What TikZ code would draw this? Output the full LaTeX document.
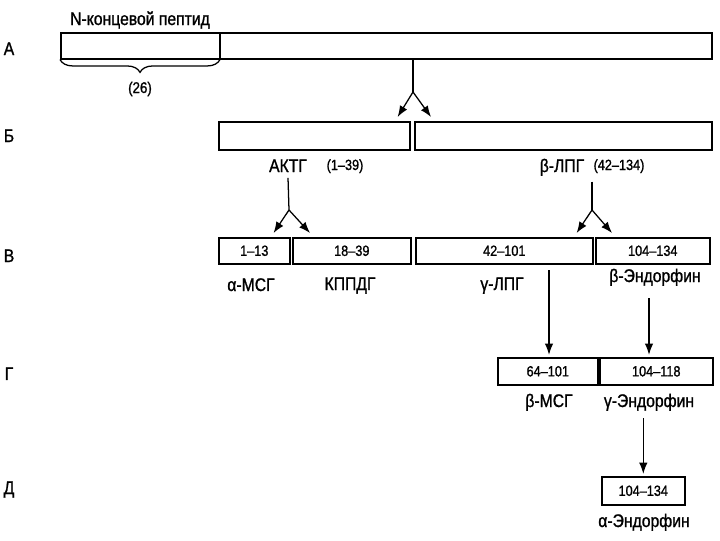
\documentclass[tikz,border=0pt]{standalone}
\usepackage{fontspec}
\setmainfont{Liberation Sans}[FakeStretch=0.86, FakeBold=1.1]
\usetikzlibrary{arrows.meta,positioning,calc,decorations.pathreplacing}
\tikzset{
  seg/.style={draw, line width=1.1pt, inner sep=0pt, anchor=north west, font=\fontsize{10.5}{12}\selectfont},
  lab/.style={font=\fontsize{13}{15}\selectfont, inner sep=0pt, anchor=base},
  rng/.style={font=\fontsize{10.5}{12}\selectfont, inner sep=0pt, anchor=base},
  rowlab/.style={font=\fontsize{13}{15}\selectfont, inner sep=0pt, anchor=base},
  stem/.style={line width=0.9pt},
  arr/.style={-{Latex[length=2.8mm,width=2.1mm]}, line width=0.9pt}
}
\begin{document}
\begin{tikzpicture}[x=0.025cm, y=-0.025cm]
\useasboundingbox (0,0) rectangle (720,540);
% row letters
\node[rowlab] (ra) at (9,55) {А};
\node[rowlab] (rb) at (9,142) {Б};
\node[rowlab] (rv) at (9,262) {В};
\node[rowlab] (rg) at (9,380) {Г};
\node[rowlab] (rd) at (9,494) {Д};
% A: precursor
\node[seg, minimum width=16.275cm, minimum height=0.65cm] (pomc) at (60,32) {};
\draw[line width=1.1pt] ($(pomc.north west)+(160,0)$) -- ($(pomc.south west)+(160,0)$);
\node[lab] (nterm) at (140,25) {N-концевой пептид};
\draw[line width=0.9pt, decorate, decoration={brace, mirror, amplitude=0.32cm}] (pomc.south west) -- ($(pomc.south west)+(160,0)$);
\node[rng, font=\fontsize{11}{13}\selectfont] (n26) at (140,93) {(26)};
% split A -> B
\coordinate (sa) at (413,92);
\draw[stem] (pomc.south -| sa) -- (sa);
% B
\node[seg, minimum width=4.775cm, minimum height=0.7cm] (actg) at (218,121) {};
\node[seg, minimum width=7.425cm, minimum height=0.7cm] (blph) at (414,121) {};
\draw[arr] (sa) -- ([shift={(-13,-4)}]actg.north east);
\draw[arr] (sa) -- ([shift={(17,-4)}]blph.north west);
\node[lab] (actgl) at (288,172) {АКТГ};
\node[rng] (actgr) at (345,170) {(1–39)};
\node[lab] (blphl) at (562,172) {β-ЛПГ};
\node[rng] (blphr) at (619,170) {(42–134)};
% split B -> V
\coordinate (sb) at (289,210);
\coordinate (sc) at (592,210);
\draw[stem] ([yshift=-4pt]actgl.south) -- (sb);
\draw[stem] ([yshift=-4pt]blphl.south -| sc) -- (sc);
% V
\node[seg, minimum width=1.775cm, minimum height=0.65cm] (amsh) at (218,237) {1–13};
\node[seg, minimum width=2.95cm, minimum height=0.65cm] (clip) at (292,237) {18–39};
\node[seg, minimum width=4.425cm, minimum height=0.65cm] (glph) at (415,237) {42–101};
\node[seg, minimum width=2.85cm, minimum height=0.65cm] (bend) at (595,237) {104–134};
\draw[arr] (sb) -- ([shift={(-17,-4)}]amsh.north east);
\draw[arr] (sb) -- ([shift={(18,-4)}]clip.north west);
\draw[arr] (sc) -- ([shift={(-17,-4)}]glph.north east);
\draw[arr] (sc) -- ([shift={(17,-4)}]bend.north west);
\node[lab] (amshl) at (251,291) {α-МСГ};
\node[lab] (clipl) at (350,290) {КППДГ};
\node[lab] (glphl) at (502,290) {γ-ЛПГ};
\node[lab] (bendl) at (655,282) {β-Эндорфин};
% G
\node[seg, minimum width=2.5cm, minimum height=0.675cm] (bmsh) at (497,357) {64–101};
\node[seg, minimum width=2.825cm, minimum height=0.675cm] (gend) at (599,357) {104–118};
\coordinate (eb) at (649,298);
\draw[arr, shorten <=4pt, shorten >=1.5pt] (glph.south -| 549,0) -- (bmsh.north -| 549,0);
\draw[arr, shorten >=1.5pt] (eb) -- (eb |- gend.north);
\node[lab] (bmshl) at (549,407) {β-МСГ};
\node[lab] (gendl) at (649,407) {γ-Эндорфин};
% D
\node[seg, minimum width=2.075cm, minimum height=0.7cm] (aend) at (601,476) {104–134};
\draw[arr, shorten <=5pt, shorten >=1.5pt] (gendl.south -| aend.north) -- (aend.north);
\node[lab] (aendl) at (644,527) {α-Эндорфин};
\end{tikzpicture}
\end{document}
